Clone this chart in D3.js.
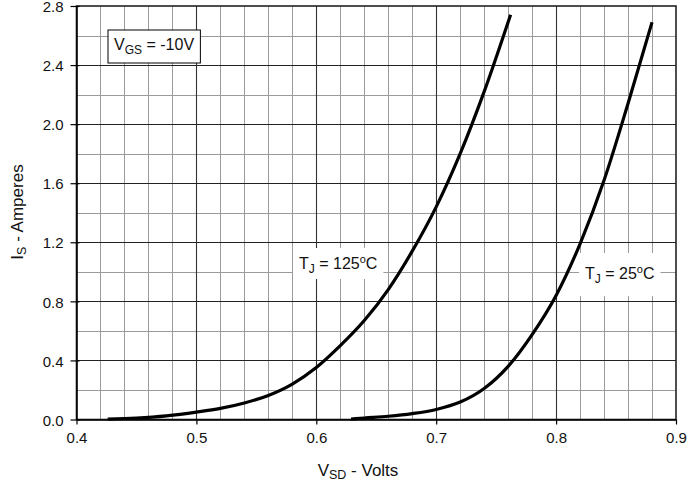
<!DOCTYPE html>
<html>
<head>
<meta charset="utf-8">
<script src="https://cdn.jsdelivr.net/npm/d3@7"></script>
<style>
  html, body { margin: 0; padding: 0; background: #fff; }
  svg { display: block; font-family: Arial, "Liberation Sans", Helvetica, sans-serif; }
</style>
</head>
<body>
<svg id="chart" width="691" height="482"></svg>
<script>
// Source-drain diode forward voltage vs. source current
const xTicks = [0.4, 0.5, 0.6, 0.7, 0.8, 0.9];
const yTicks = [0.0, 0.4, 0.8, 1.2, 1.6, 2.0, 2.4, 2.8];

// T_J = 125 °C
const vsd125 = [0.426, 0.45, 0.475, 0.50, 0.52, 0.54, 0.56, 0.58, 0.60, 0.62, 0.64, 0.66, 0.68, 0.70, 0.72, 0.74, 0.762];
const is125  = [0.003, 0.010, 0.025, 0.050, 0.075, 0.112, 0.163, 0.240, 0.352, 0.50, 0.67, 0.88, 1.14, 1.44, 1.80, 2.22, 2.74];

// T_J = 25 °C
const vsd25 = [0.629, 0.64, 0.66, 0.68, 0.70, 0.72, 0.74, 0.76, 0.78, 0.80, 0.82, 0.84, 0.86, 0.880];
const is25  = [0.003, 0.010, 0.022, 0.040, 0.068, 0.118, 0.21, 0.36, 0.575, 0.84, 1.19, 1.62, 2.14, 2.69];

const svg = d3.select("#chart");
const plotL = 76.5, plotR = 676, plotT = 6, plotB = 419.5;

const x = d3.scaleLinear().domain([0.4, 0.9]).range([plotL, plotR]);
const y = d3.scaleLinear().domain([0, 2.8]).range([plotB, plotT]);

// grid: minor lines every 0.02 V / 0.2 A, major at the tick values
const minorX = d3.range(21, 45).map(i => i * 0.02).filter(v => Math.abs(v * 10 - Math.round(v * 10)) > 1e-6);
const minorY = d3.range(0, 14).map(i => i * 0.2 + 0.2).filter(v => Math.abs(v / 0.4 - Math.round(v / 0.4)) > 1e-6);

const grid = svg.append("g");
grid.selectAll(".mx").data(minorX).join("line")
  .attr("x1", d => Math.round(x(d)) + 0.5).attr("x2", d => Math.round(x(d)) + 0.5)
  .attr("y1", plotT).attr("y2", plotB)
  .attr("stroke", "#9a9a9a").attr("stroke-width", 1);
grid.selectAll(".my").data(minorY).join("line")
  .attr("y1", d => Math.round(y(d)) + 0.5).attr("y2", d => Math.round(y(d)) + 0.5)
  .attr("x1", plotL).attr("x2", plotR)
  .attr("stroke", "#9a9a9a").attr("stroke-width", 1);
grid.selectAll(".Mx").data(xTicks.slice(1, -1)).join("line")
  .attr("x1", d => Math.round(x(d)) + 0.5).attr("x2", d => Math.round(x(d)) + 0.5)
  .attr("y1", plotT).attr("y2", plotB)
  .attr("stroke", "#333").attr("stroke-width", 1.1);
grid.selectAll(".My").data(yTicks.slice(1, -1)).join("line")
  .attr("y1", d => Math.round(y(d)) + 0.5).attr("y2", d => Math.round(y(d)) + 0.5)
  .attr("x1", plotL).attr("x2", plotR)
  .attr("stroke", "#222").attr("stroke-width", 1.1);

// frame
svg.append("rect")
  .attr("x", plotL).attr("y", plotT)
  .attr("width", plotR - plotL).attr("height", plotB - plotT)
  .attr("fill", "none").attr("stroke", "#222").attr("stroke-width", 1.6);

// axes
const xAxis = d3.axisBottom(x).tickValues(xTicks).tickFormat(d3.format(".1f")).tickSizeInner(5).tickSizeOuter(0).tickPadding(5);
const yAxis = d3.axisLeft(y).tickValues(yTicks).tickFormat(d3.format(".1f")).tickSizeInner(6).tickSizeOuter(0).tickPadding(7);

const gx = svg.append("g").attr("transform", `translate(0,${plotB})`).call(xAxis);
const gy = svg.append("g").attr("transform", `translate(${plotL},0)`).call(yAxis);
[gx, gy].forEach(g => {
  g.select(".domain").attr("stroke", "#000").attr("stroke-width", 1.5);
  g.selectAll(".tick line").attr("stroke", "#000").attr("stroke-width", 1.2);
  g.selectAll(".tick text").attr("fill", "#111").style("font-size", "15px")
    .style("font-family", "Arial, 'Liberation Sans', sans-serif");
});
gy.selectAll(".tick line").attr("x2", 3).attr("x1", -6);
gy.selectAll(".tick text").attr("dy", "0.38em");
gx.selectAll(".tick text").attr("dy", "0.9em");

// curves
const line = d3.line().x(d => x(d[0])).y(d => y(d[1])).curve(d3.curveMonotoneX);
const series = [d3.zip(vsd125, is125), d3.zip(vsd25, is25)];
svg.append("g").selectAll("path").data(series).join("path")
  .attr("d", line)
  .attr("fill", "none").attr("stroke", "#000").attr("stroke-width", 3.2)
  .attr("stroke-linecap", "butt").attr("stroke-linejoin", "round");

// labels with optional box
function label(px, py, parts, boxed, pad) {
  const g = svg.append("g");
  const t = g.append("text").attr("x", px).attr("y", py)
    .style("font-size", "16px").attr("fill", "#111");
  parts.forEach(p => {
    const s = t.append("tspan").text(p.t);
    if (p.sub) s.style("font-size", "12px").attr("dy", 4);
    if (p.sup) s.style("font-size", "11px").attr("dy", p.dy);
    if (p.back) s.attr("dy", p.back);
  });
  const b = t.node().getBBox();
  g.insert("rect", "text")
    .attr("x", b.x - pad[0]).attr("y", b.y - pad[1])
    .attr("width", b.width + 2 * pad[0]).attr("height", b.height + pad[1] + pad[2])
    .attr("fill", "#fff")
    .attr("stroke", boxed ? "#000" : "none").attr("stroke-width", 1);
}

label(114, 50, [{t: "V"}, {t: "GS", sub: true}, {t: " = -10V", back: -4}], true, [6, 6, 6]);
label(299, 269, [{t: "T"}, {t: "J", sub: true}, {t: " = 125", back: -4}, {t: "o", sup: true, dy: -6}, {t: "C", back: 6}], false, [6, 5, 3]);
label(585, 279, [{t: "T"}, {t: "J", sub: true}, {t: " = 25", back: -4}, {t: "o", sup: true, dy: -6}, {t: "C", back: 6}], false, [6, 10, 10]);

// axis titles
const xt = svg.append("text").attr("x", 358).attr("y", 476).attr("text-anchor", "middle")
  .style("font-size", "17px").attr("fill", "#111");
xt.append("tspan").text("V");
xt.append("tspan").text("SD").style("font-size", "12.5px").attr("dy", 3);
xt.append("tspan").text(" - Volts").attr("dy", -3);

const yt = svg.append("text").attr("transform", "translate(23,212) rotate(-90)").attr("text-anchor", "middle")
  .style("font-size", "17px").attr("fill", "#111");
yt.append("tspan").text("I");
yt.append("tspan").text("S").style("font-size", "12.5px").attr("dy", 3);
yt.append("tspan").text(" - Amperes").attr("dy", -3);
</script>
</body>
</html>
